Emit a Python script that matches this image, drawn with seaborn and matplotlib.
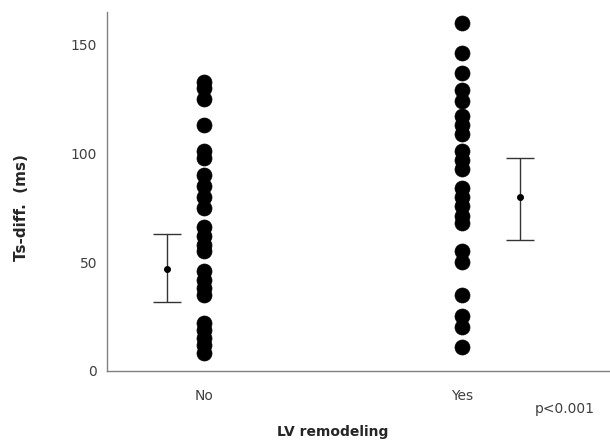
import seaborn as sns
import matplotlib.pyplot as plt
import pandas as pd

# Ts-diff values (ms)
ts_no = [133, 130, 125, 113, 101, 98, 90, 85, 80, 75, 66, 62, 58, 55,
         46, 42, 38, 35, 22, 19, 15, 12, 8]
ts_yes = [160, 146, 137, 129, 124, 117, 113, 109, 101, 97, 93, 84, 80, 76,
          71, 68, 55, 50, 35, 25, 20, 11]

groups = ["No", "Yes"]
# summary markers (centre, lower, upper) drawn beside each column
summary_mid = [47, 80]
summary_low = [31.5, 60]
summary_high = [63, 98]

df = pd.DataFrame({
    "LV remodeling": ["No"] * len(ts_no) + ["Yes"] * len(ts_yes),
    "Ts-diff. (ms)": ts_no + ts_yes,
})

sns.set_style("white")
plt.rcParams["font.family"] = ["DejaVu Sans"]

fig = plt.figure(figsize=(6.1, 4.41), dpi=100)
ax = fig.add_axes([0.175, 0.159, 0.825, 0.814])

sns.stripplot(data=df, x="LV remodeling", y="Ts-diff. (ms)", order=groups,
              jitter=False, color="black", size=10.8, linewidth=0.5,
              edgecolor="black", ax=ax)

# error bars sit to the outside of each column
offsets = [-0.143, 0.225]
for i, g in enumerate(groups):
    xpos = i + offsets[i]
    ax.errorbar(xpos, summary_mid[i],
                yerr=[[summary_mid[i] - summary_low[i]], [summary_high[i] - summary_mid[i]]],
                fmt="o", color="black", ecolor="#333333", elinewidth=1,
                capsize=10, capthick=1, markersize=4)

ax.set_xlim(-0.376, 1.574)
ax.set_ylim(0, 165)
ax.set_yticks([0, 50, 100, 150])

for side in ["top", "right"]:
    ax.spines[side].set_visible(False)
for side in ["left", "bottom"]:
    ax.spines[side].set_color("#808080")
    ax.spines[side].set_linewidth(1)

ax.tick_params(axis="x", length=0, pad=13, labelsize=10, labelcolor="#404040")
ax.tick_params(axis="y", length=0, pad=7, labelsize=10, labelcolor="#404040")

ax.set_xlabel("LV remodeling", fontsize=10, fontweight="bold")
ax.set_ylabel("Ts-diff.  (ms)", fontsize=11, fontweight="bold")
ax.xaxis.set_label_coords(0.449, -0.15)
ax.yaxis.set_label_coords(-0.155, 0.454)

ax.text(0.91, -0.106, "p<0.001", transform=ax.transAxes, ha="center",
        va="center", fontsize=10, color="#404040")

fig.savefig("out.png", dpi=100)
